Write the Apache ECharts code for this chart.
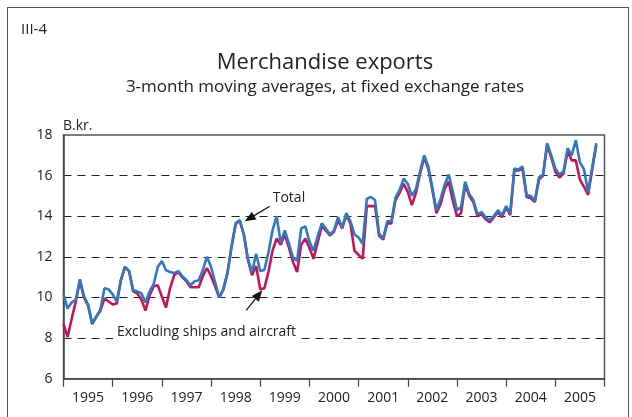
<!DOCTYPE html>
<html>
<head>
<meta charset="utf-8">
<script src="https://cdn.jsdelivr.net/npm/echarts@6/dist/echarts.min.js"></script>
<style>
  html, body { margin: 0; padding: 0; background: #fff; }
  #frame {
    position: absolute; left: 7px; top: 7px; width: 620px; height: 430px;
    border-left: 1.5px solid #555; border-top: 1.5px solid #555; border-right: 1.5px solid #555;
  }
  #chart { position: absolute; left: 0; top: 0; width: 632px; height: 417px; }
</style>
</head>
<body>
<div id="frame"></div>
<div id="chart"></div>
<script>
// year labels on the x axis (monthly data, Jan 1995 - Nov 2005)
const years = ['1995', '1996', '1997', '1998', '1999', '2000', '2001', '2002', '2003', '2004', '2005']

// 3-month moving averages, B.kr.
const total = [
  10.15, 9.45, 9.75, 9.9, 10.9, 10.05, 9.65, 8.7, 9.05, 9.4, 10.45, 10.4,
  10.15, 9.8, 10.85, 11.5, 11.3, 10.35, 10.3, 10.2, 9.75, 10.3, 10.65, 11.5,
  11.8, 11.35, 11.25, 11.2, 11.3, 11.05, 10.85, 10.6, 10.8, 10.85, 11.35, 12.0,
  11.5, 10.75, 10.0, 10.4, 11.2, 12.5, 13.65, 13.8, 13.1, 11.9, 11.25, 12.15,
  11.3, 11.35, 12.2, 13.3, 14.0, 12.7, 13.3, 12.65, 11.95, 11.8, 13.4, 13.5,
  12.75, 12.3, 13.0, 13.65, 13.4, 13.1, 13.3, 13.95, 13.45, 14.15, 13.75, 13.1,
  12.95, 12.65, 14.85, 14.95, 14.8, 13.15, 12.9, 13.75, 13.75, 14.9, 15.3, 15.85,
  15.6, 15.0, 15.35, 16.2, 17.0, 16.45, 15.4, 14.3, 14.85, 15.55, 16.05, 15.2,
  14.3, 14.45, 15.7, 15.1, 14.8, 14.1, 14.2, 13.95, 13.8, 14.0, 14.3, 14.05,
  14.5, 14.15, 16.35, 16.3, 16.45, 15.05, 15.0, 14.75, 15.9, 16.05, 17.6, 17.0,
  16.35, 16.05, 16.2, 17.35, 17.0, 17.75, 16.65, 16.3, 15.2, 16.4, 17.6
]
const excluding = [
  8.7, 8.05, 8.95, 9.8, 10.8, 10.0, 9.6, 8.7, 9.05, 9.35, 9.95, 9.8,
  9.65, 9.7, 10.85, 11.5, 11.3, 10.3, 10.2, 9.9, 9.35, 10.1, 10.55, 10.6,
  10.05, 9.5, 10.45, 11.1, 11.25, 11.0, 10.8, 10.5, 10.5, 10.5, 11.05, 11.45,
  11.05, 10.55, 10.0, 10.4, 11.2, 12.5, 13.6, 13.8, 13.1, 11.85, 11.1, 11.55,
  10.4, 10.45, 11.25, 12.3, 12.9, 12.6, 13.1, 12.45, 11.75, 11.25, 12.6, 12.9,
  12.45, 11.9, 12.7, 13.5, 13.3, 13.05, 13.25, 13.8, 13.4, 14.05, 13.65, 12.3,
  12.1, 11.9, 14.5, 14.5, 14.5, 13.05, 12.85, 13.65, 13.65, 14.8, 15.15, 15.6,
  15.2, 14.55, 15.15, 16.1, 16.9, 16.35, 15.3, 14.15, 14.6, 15.35, 15.7, 14.75,
  14.0, 14.15, 15.55, 15.0, 14.7, 14.0, 14.1, 13.85, 13.7, 13.95, 14.2, 13.95,
  14.45, 14.05, 16.25, 16.25, 16.35, 14.95, 14.9, 14.7, 15.8, 16.0, 17.5, 16.9,
  16.2, 15.9, 16.1, 17.2, 16.75, 16.75, 15.8, 15.45, 15.05, 16.3, 17.5
]

const FONT = '"Open Sans", sans-serif'
const TXT = '#222'
const BLUE = '#2e79c2'
const RED = '#c4145a'

const chart = echarts.init(document.getElementById('chart'), null, { renderer: 'canvas' })

const option = {
  animation: false,
  textStyle: { fontFamily: FONT },
  title: [
    {
      text: 'Merchandise exports',
      subtext: '3-month moving averages, at fixed exchange rates',
      left: 320, top: 47, textAlign: 'center',
      textStyle: { fontSize: 22, fontWeight: 'normal', color: TXT, fontFamily: FONT },
      subtextStyle: { fontSize: 17, color: TXT, fontFamily: FONT },
      itemGap: 5
    },
    {
      text: 'III-4', left: 16, top: 17,
      textStyle: { fontSize: 15, fontWeight: 'normal', color: TXT, fontFamily: FONT }
    },
    {
      text: 'B.kr.', left: 58, top: 114,
      textStyle: { fontSize: 14, fontWeight: 'normal', color: TXT, fontFamily: FONT }
    }
  ],
  grid: {
    left: 63.5, right: 27.5, top: 135, bottom: 38.3,
    show: true, borderColor: '#555', borderWidth: 1.5
  },
  xAxis: [
    {
      type: 'value', min: 0, max: years.length * 12, interval: 12,
      axisLine: { show: true, lineStyle: { color: '#444', width: 1.5 } },
      axisTick: { show: true, length: 8, lineStyle: { color: '#444', width: 1.2 } },
      axisLabel: { show: false },
      splitLine: { show: false }
    },
    {
      type: 'category', data: years, position: 'bottom', boundaryGap: true,
      axisLine: { show: false }, axisTick: { show: false },
      axisLabel: { fontSize: 14, color: TXT, margin: 12, fontFamily: FONT }
    }
  ],
  yAxis: {
    type: 'value', min: 6, max: 18, interval: 2,
    axisLine: { show: true, lineStyle: { color: '#444', width: 1.5 } },
    axisTick: { show: false },
    axisLabel: { fontSize: 14, color: TXT, margin: 11, fontFamily: FONT },
    splitLine: {
      show: true, showMinLine: false, showMaxLine: false,
      lineStyle: { color: '#222', width: 1, type: [8, 6] }
    }
  },
  series: [
    {
      name: 'Excluding ships and aircraft', type: 'line', xAxisIndex: 0,
      data: excluding.map((v, i) => [i, v]),
      showSymbol: false, lineStyle: { color: RED, width: 2.6 }, z: 3
    },
    {
      name: 'Total', type: 'line', xAxisIndex: 0,
      data: total.map((v, i) => [i, v]),
      showSymbol: false, lineStyle: { color: BLUE, width: 2.6 }, z: 4
    }
  ]
}
chart.setOption(option)

// annotation arrows anchored on data points
function arrow(tip, from) {
  const dx = tip[0] - from[0], dy = tip[1] - from[1]
  const len = Math.sqrt(dx * dx + dy * dy)
  const ux = dx / len, uy = dy / len
  const hl = 11, hw = 4.5
  const bx = tip[0] - ux * hl, by = tip[1] - uy * hl
  return [
    { type: 'line', shape: { x1: from[0], y1: from[1], x2: bx, y2: by },
      style: { stroke: '#111', lineWidth: 1.2 }, z: 10 },
    { type: 'polygon', shape: { points: [tip, [bx - uy * hw, by + ux * hw], [bx + uy * hw, by - ux * hw]] },
      style: { fill: '#111' }, z: 10 }
  ]
}
const pTot = chart.convertToPixel({ xAxisIndex: 0, yAxisIndex: 0 }, [43, total[43]])
const pExc = chart.convertToPixel({ xAxisIndex: 0, yAxisIndex: 0 }, [48, excluding[48]])
const tipTot = [pTot[0] + 5, pTot[1] + 1]
const tipExc = [pExc[0] + 2, pExc[1] + 1]

chart.setOption({
  graphic: [
    ...arrow(tipTot, [tipTot[0] + 25, tipTot[1] - 15]),
    ...arrow(tipExc, [tipExc[0] - 16, tipExc[1] + 20]),
    { type: 'text', x: tipTot[0] + 28, y: tipTot[1] - 23, z: 10,
      style: { text: 'Total', fill: TXT, font: '14px ' + FONT, textVerticalAlign: 'middle' } },
    { type: 'text', x: 113, y: 332, z: 10,
      style: { text: 'Excluding ships and aircraft', fill: TXT, font: '14px ' + FONT,
        textVerticalAlign: 'middle', backgroundColor: '#fff', padding: [2, 4] } }
  ]
})
</script>
</body>
</html>
